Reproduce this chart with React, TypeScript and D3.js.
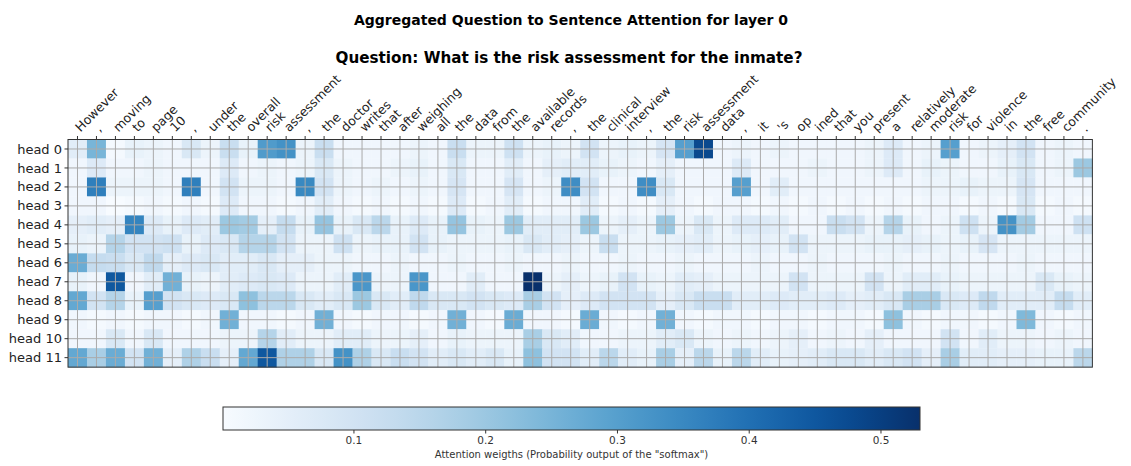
import * as d3 from "d3"
import { useEffect, useRef } from "react"

const tokens = [
  "However", ",", "moving", "to", "page", "10", ",", "under", "the", "overall",
  "risk", "assessment", ",", "the", "doctor", "writes", "that", "after", "weighing", "all",
  "the", "data", "from", "the", "available", "records", ",", "the", "clinical", "interview",
  ",", "the", "risk", "assessment", "data", ",", "it", "'s", "op", "ined",
  "that", "you", "present", "a", "relatively", "moderate", "risk", "for", "violence", "in",
  "the", "free", "community", ".",
]

const heads = [
  "head 0", "head 1", "head 2", "head 3", "head 4", "head 5",
  "head 6", "head 7", "head 8", "head 9", "head 10", "head 11",
]

// attention per head, one value per token
const head0 = [0.06, 0.25, 0.01, 0.04, 0.03, 0.02, 0.08, 0.03, 0.12, 0.04, 0.31, 0.33, 0.03, 0.12, 0.02, 0.02, 0.02, 0.02, 0.03, 0.02, 0.12, 0.03, 0.03, 0.11, 0.03, 0.04, 0.03, 0.1, 0.03, 0.04, 0.03, 0.09, 0.3, 0.48, 0.02, 0.03, 0.02, 0.03, 0.02, 0.02, 0.02, 0.02, 0.03, 0.07, 0.02, 0.03, 0.3, 0.02, 0.03, 0.05, 0.1, 0.02, 0.03, 0.02]
const head1 = [0.02, 0.07, 0.02, 0.02, 0.03, 0.02, 0.02, 0.02, 0.07, 0.02, 0.03, 0.02, 0.03, 0.08, 0.03, 0.02, 0.02, 0.03, 0.04, 0.02, 0.08, 0.02, 0.02, 0.06, 0.02, 0.05, 0.06, 0.06, 0.04, 0.03, 0.02, 0.05, 0.02, 0.02, 0.02, 0.07, 0.02, 0.02, 0.02, 0.03, 0.02, 0.02, 0.03, 0.07, 0.02, 0.04, 0.03, 0.02, 0.02, 0.04, 0.08, 0.02, 0.03, 0.2]
const head2 = [0.02, 0.37, 0.03, 0.03, 0.03, 0.02, 0.37, 0.02, 0.1, 0.03, 0.03, 0.02, 0.35, 0.1, 0.03, 0.02, 0.03, 0.02, 0.03, 0.02, 0.09, 0.02, 0.02, 0.09, 0.02, 0.03, 0.34, 0.1, 0.02, 0.02, 0.34, 0.08, 0.02, 0.02, 0.02, 0.3, 0.02, 0.06, 0.02, 0.02, 0.02, 0.02, 0.02, 0.02, 0.02, 0.03, 0.03, 0.04, 0.03, 0.03, 0.09, 0.02, 0.02, 0.02]
const head3 = [0.02, 0.02, 0.001, 0.01, 0.02, 0.01, 0.02, 0.01, 0.07, 0.02, 0.02, 0.01, 0.02, 0.06, 0.02, 0.01, 0.02, 0.01, 0.02, 0.01, 0.07, 0.01, 0.02, 0.06, 0.01, 0.02, 0.02, 0.06, 0.01, 0.02, 0.01, 0.05, 0.02, 0.01, 0.02, 0.02, 0.01, 0.02, 0.01, 0.02, 0.01, 0.02, 0.01, 0.02, 0.01, 0.02, 0.02, 0.01, 0.02, 0.01, 0.08, 0.01, 0.02, 0.01]
const head4 = [0.05, 0.06, 0.05, 0.36, 0.07, 0.04, 0.07, 0.06, 0.2, 0.19, 0.05, 0.13, 0.04, 0.21, 0.04, 0.08, 0.15, 0.04, 0.07, 0.04, 0.21, 0.04, 0.03, 0.2, 0.06, 0.06, 0.06, 0.2, 0.03, 0.05, 0.03, 0.2, 0.03, 0.08, 0.03, 0.07, 0.07, 0.06, 0.02, 0.02, 0.12, 0.1, 0.03, 0.16, 0.04, 0.02, 0.03, 0.11, 0.03, 0.33, 0.19, 0.02, 0.02, 0.11]
const head5 = [0.04, 0.03, 0.16, 0.1, 0.1, 0.11, 0.04, 0.07, 0.08, 0.16, 0.16, 0.1, 0.03, 0.03, 0.11, 0.03, 0.04, 0.04, 0.1, 0.04, 0.03, 0.03, 0.03, 0.04, 0.08, 0.06, 0.05, 0.03, 0.12, 0.03, 0.03, 0.04, 0.05, 0.06, 0.03, 0.04, 0.05, 0.04, 0.1, 0.03, 0.03, 0.03, 0.04, 0.04, 0.05, 0.04, 0.03, 0.04, 0.09, 0.03, 0.03, 0.03, 0.03, 0.03]
const head6 = [0.27, 0.13, 0.12, 0.08, 0.14, 0.05, 0.07, 0.08, 0.06, 0.06, 0.08, 0.05, 0.05, 0.03, 0.03, 0.02, 0.02, 0.03, 0.02, 0.02, 0.03, 0.02, 0.02, 0.03, 0.02, 0.02, 0.03, 0.02, 0.02, 0.03, 0.02, 0.02, 0.03, 0.02, 0.02, 0.02, 0.03, 0.02, 0.02, 0.03, 0.02, 0.02, 0.02, 0.03, 0.02, 0.02, 0.03, 0.02, 0.02, 0.02, 0.03, 0.02, 0.02, 0.02]
const head7 = [0.04, 0.02, 0.45, 0.02, 0.06, 0.26, 0.04, 0.03, 0.06, 0.07, 0.08, 0.07, 0.03, 0.03, 0.06, 0.32, 0.03, 0.03, 0.32, 0.02, 0.02, 0.06, 0.02, 0.02, 0.53, 0.03, 0.05, 0.03, 0.04, 0.1, 0.04, 0.03, 0.06, 0.05, 0.03, 0.03, 0.03, 0.03, 0.1, 0.03, 0.03, 0.03, 0.1, 0.03, 0.06, 0.06, 0.04, 0.03, 0.03, 0.03, 0.03, 0.08, 0.04, 0.03]
const head8 = [0.28, 0.1, 0.16, 0.04, 0.3, 0.1, 0.08, 0.07, 0.08, 0.22, 0.15, 0.15, 0.08, 0.06, 0.08, 0.2, 0.08, 0.06, 0.14, 0.08, 0.08, 0.1, 0.08, 0.07, 0.18, 0.1, 0.05, 0.07, 0.1, 0.1, 0.1, 0.05, 0.08, 0.12, 0.12, 0.06, 0.06, 0.07, 0.06, 0.06, 0.07, 0.05, 0.06, 0.08, 0.18, 0.18, 0.08, 0.07, 0.14, 0.06, 0.06, 0.06, 0.13, 0.06]
const head9 = [0.02, 0.01, 0.02, 0.01, 0.02, 0.02, 0.01, 0.02, 0.26, 0.02, 0.02, 0.01, 0.02, 0.26, 0.02, 0.01, 0.02, 0.02, 0.01, 0.02, 0.26, 0.02, 0.01, 0.27, 0.02, 0.02, 0.01, 0.27, 0.02, 0.01, 0.02, 0.26, 0.02, 0.01, 0.02, 0.02, 0.01, 0.02, 0.02, 0.01, 0.02, 0.02, 0.01, 0.22, 0.02, 0.01, 0.02, 0.02, 0.01, 0.02, 0.24, 0.02, 0.01, 0.02]
const head10 = [0.02, 0.02, 0.08, 0.02, 0.08, 0.02, 0.02, 0.02, 0.03, 0.03, 0.16, 0.06, 0.03, 0.03, 0.06, 0.06, 0.03, 0.03, 0.05, 0.02, 0.04, 0.03, 0.03, 0.03, 0.18, 0.08, 0.06, 0.02, 0.02, 0.03, 0.03, 0.06, 0.08, 0.03, 0.02, 0.03, 0.02, 0.03, 0.05, 0.02, 0.03, 0.02, 0.05, 0.02, 0.02, 0.02, 0.1, 0.02, 0.06, 0.03, 0.03, 0.02, 0.03, 0.02]
const head11 = [0.28, 0.18, 0.27, 0.1, 0.26, 0.05, 0.17, 0.12, 0.05, 0.28, 0.45, 0.17, 0.17, 0.08, 0.33, 0.17, 0.08, 0.12, 0.1, 0.06, 0.08, 0.06, 0.08, 0.04, 0.22, 0.1, 0.1, 0.06, 0.15, 0.06, 0.04, 0.18, 0.05, 0.15, 0.04, 0.15, 0.06, 0.04, 0.05, 0.06, 0.08, 0.08, 0.06, 0.08, 0.1, 0.05, 0.18, 0.06, 0.06, 0.05, 0.05, 0.04, 0.04, 0.15]

const rows = [head0, head1, head2, head3, head4, head5, head6, head7, head8, head9, head10, head11]
const cbTicks = [0.1, 0.2, 0.3, 0.4, 0.5]

const W = 1131
const H = 466
const font = "DejaVu Sans, sans-serif"

export default function App() {
  const ref = useRef<SVGSVGElement>(null)

  useEffect(() => {
    const svg = d3.select(ref.current)
    svg.selectAll("*").remove()

    const left = 68
    const top = 139.5
    const cell = 18.97
    const right = left + cell * tokens.length
    const bottom = top + cell * heads.length

    const x = d3.scaleBand().domain(tokens.map((_, i) => String(i))).range([left, right])
    const y = d3.scaleBand().domain(heads).range([top, bottom])

    const all = rows.flat()
    const [vmin, vmax] = d3.extent(all) as [number, number]
    const color = d3.scaleSequential(d3.interpolateBlues).domain([vmin, vmax])

    const cells = rows.flatMap((r, ri) => r.map((v, ci) => ({ r: heads[ri], c: String(ci), v })))

    svg.append("g")
      .selectAll("rect")
      .data(cells)
      .join("rect")
      .attr("x", (d) => x(d.c)!)
      .attr("y", (d) => y(d.r)!)
      .attr("width", x.bandwidth() + 0.3)
      .attr("height", y.bandwidth() + 0.3)
      .attr("fill", (d) => color(d.v))

    // grid through the cell centres
    const grid = svg.append("g").attr("stroke", "#aaaaaa").attr("stroke-width", 1)
    tokens.forEach((_, i) => {
      const cx = x(String(i))! + x.bandwidth() / 2
      grid.append("line").attr("x1", cx).attr("x2", cx).attr("y1", top).attr("y2", bottom)
    })
    heads.forEach((h) => {
      const cy = y(h)! + y.bandwidth() / 2
      grid.append("line").attr("x1", left).attr("x2", right).attr("y1", cy).attr("y2", cy)
    })

    svg.append("rect")
      .attr("x", left).attr("y", top)
      .attr("width", right - left).attr("height", bottom - top)
      .attr("fill", "none").attr("stroke", "#333").attr("stroke-width", 1)

    // top axis, labels at 45 degrees
    const xt = svg.append("g")
    tokens.forEach((t, i) => {
      const cx = x(String(i))! + x.bandwidth() / 2
      xt.append("line").attr("x1", cx).attr("x2", cx).attr("y1", top).attr("y2", top - 3.5).attr("stroke", "#333")
      xt.append("text")
        .attr("transform", `translate(${cx + 3},${top - 7}) rotate(-45)`)
        .attr("font-family", font)
        .attr("font-size", 12.5)
        .attr("fill", "#222")
        .text(t)
    })

    const yt = svg.append("g")
    heads.forEach((h) => {
      const cy = y(h)! + y.bandwidth() / 2
      yt.append("line").attr("x1", left).attr("x2", left - 3.5).attr("y1", cy).attr("y2", cy).attr("stroke", "#333")
      yt.append("text")
        .attr("x", left - 6)
        .attr("y", cy)
        .attr("dy", "0.35em")
        .attr("text-anchor", "end")
        .attr("font-family", font)
        .attr("font-size", 13)
        .attr("fill", "#222")
        .text(h)
    })

    svg.append("text")
      .attr("x", 571).attr("y", 25)
      .attr("text-anchor", "middle")
      .attr("font-family", font).attr("font-weight", "bold").attr("font-size", 14)
      .text("Aggregated Question to Sentence Attention for layer 0")
    svg.append("text")
      .attr("x", 569).attr("y", 63)
      .attr("text-anchor", "middle")
      .attr("font-family", font).attr("font-weight", "bold").attr("font-size", 15.2)
      .text("Question: What is the risk assessment for the inmate?")

    // colorbar
    const cbL = 223
    const cbR = 920
    const cbT = 407
    const cbH = 23
    const cx = d3.scaleLinear().domain([vmin, vmax]).range([cbL, cbR])
    const defs = svg.append("defs")
    const grad = defs.append("linearGradient").attr("id", "cbgrad")
    d3.range(0, 1.0001, 0.05).forEach((t) => {
      grad.append("stop").attr("offset", `${t * 100}%`).attr("stop-color", d3.interpolateBlues(t))
    })
    svg.append("rect")
      .attr("x", cbL).attr("y", cbT).attr("width", cbR - cbL).attr("height", cbH)
      .attr("fill", "url(#cbgrad)").attr("stroke", "#333").attr("stroke-width", 1)

    const ax = svg.append("g")
      .attr("transform", `translate(0,${cbT + cbH})`)
      .call(d3.axisBottom(cx).tickValues(cbTicks).tickFormat(d3.format(".1f")).tickSize(3.5).tickPadding(3))
    ax.select(".domain").remove()
    ax.selectAll("line").attr("stroke", "#333")
    ax.selectAll("text").attr("font-family", font).attr("font-size", 10.5).attr("fill", "#333")

    svg.append("text")
      .attr("x", (cbL + cbR) / 2).attr("y", 458)
      .attr("text-anchor", "middle")
      .attr("font-family", font).attr("font-size", 10).attr("fill", "#333")
      .text('Attention weigths (Probability output of the "softmax")')
  }, [])

  return <svg ref={ref} width={W} height={H} style={{ position: "absolute", left: 0, top: 0, background: "#fff" }} />
}
